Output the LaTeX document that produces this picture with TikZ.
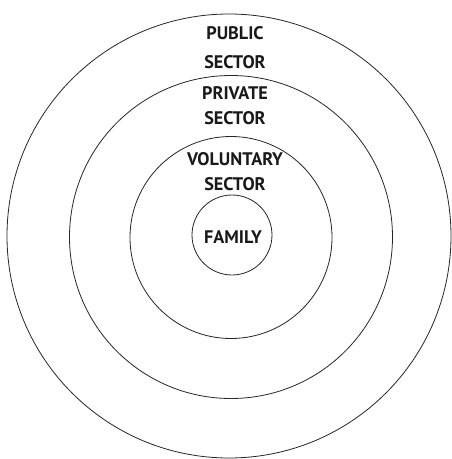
\documentclass[tikz,border=0pt]{standalone}
\usepackage{fontspec}
\setmainfont{PT Sans}
\begin{document}
\begin{tikzpicture}[x=1pt,y=-1pt,
  ring/.style={draw=black!85,line width=0.8pt},
  lbl/.style={font=\bfseries\fontsize{18.2}{21}\selectfont,text=black!90,inner sep=0pt,align=center}]
\useasboundingbox (0,0) rectangle (451,459);
\fill[white] (0,0) rectangle (451,459);
\coordinate (c) at (229,236);
\draw[ring] (c) circle (222);
\draw[ring] (231,237) circle (161.5);
\draw[ring] (231,237.5) circle (101);
\draw[ring] (232,235) circle (40);
\node[lbl] (pub1) at (235,33) {PUBLIC};
\node[lbl] (pub2) at (235,62) {SECTOR};
\node[lbl] (pri1) at (235,93) {PRIVATE};
\node[lbl] (pri2) at (235,118) {SECTOR};
\node[lbl] (vol1) at (235,159) {VOLUNTARY};
\node[lbl] (vol2) at (235,184) {SECTOR};
\node[lbl] (fam) at (233,237) {FAMILY};
\end{tikzpicture}
\end{document}
